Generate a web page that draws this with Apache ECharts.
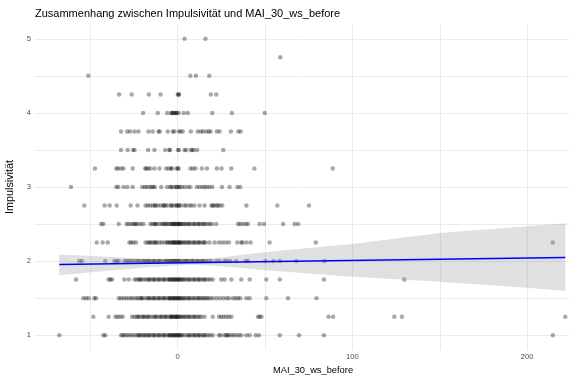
<!DOCTYPE html>
<html>
<head>
<meta charset="utf-8">
<script src="https://cdn.jsdelivr.net/npm/echarts@6/dist/echarts.min.js"></script>
<style>
  html, body { margin: 0; padding: 0; background: #ffffff; }
  #chart { width: 569px; height: 375px; }
</style>
</head>
<body>
<div id="chart"></div>
<script>
// MAI_30_ws_before values observed at each Impulsivität level
const imp_5_00 = [4, 16];
const imp_4_75 = [58.8];
const imp_4_50 = [-51, 7.3, 10.5, 18.2];
const imp_4_25 = [-33.4, -26.2, -16.4, -9.7, 0.2, 0.6, 0.9, 19.1, 22.2];
const imp_4_00 = [-19.7, -11.3, -5.9, -3.6, -3.3, -2.7, -1.9, -1.3, -0.7, -0.4, 0.7, 3.6, 5.9, 19.9, 31.1, 49.9];
const imp_3_75 = [-32.3, -28.8, -27.1, -24.6, -22.3, -16.6, -14.2, -10.9, -10.1, -5.6, -2.7, -1.9, 0.7, 1.7, 3.0, 7.6,
  11.6, 13.4, 14.5, 16.4, 17.9, 18.9, 22.5, 24.1, 30.5, 34.8, 36.1];
const imp_3_50 = [-32.3, -28.5, -25.4, -24.6, -16.8, -13.2, -7.0, -4.6, -4.4, 0.4, 0.7, 4.0, 5.0, 7.6, 8.4, 9.3, 11.3, 26.2];
const imp_3_25 = [-47.2, -35, -34, -32.3, -30.9, -25.6, -18.5, -17.8, -16.8, -15.5, -13.2, -10.3, -6.5, -5.0, -3.6, -3.4,
  -0.7, 0.2, 0.7, 7.4, 8.8, 10.3, 13.9, 16.8, 22.5, 25.2, 30.8, 44.0, 88.8];
const imp_3_00 = [-60.9, -35, -33.8, -30.8, -28.7, -25.6, -20.2, -18.7, -17.6, -16, -14.9, -13.9, -13, -9.3, -5.9, -4,
  -3.6, -2.1, -0.7, -0.4, 0.7, 1.1, 2.5, 4, 5.9, 7.4, 11.1, 12.6, 14.2, 15.5, 16.8, 18.3, 19.9, 25.4, 29.8, 34.2, 35.9];
const imp_2_75 = [-53.3, -41.7, -38.8, -34.8, -26.8, -22.9, -18.3, -17, -15.6, -14.1, -13, -12.6, -11.3, -9.7, -8, -7.9,
  -6.9, -5.6, -3.6, -3.6, -2.3, -0.7, -0.4, 0.7, 0.7, 2, 4, 5, 6.9, 8, 9.7, 12.6, 15.5, 19.3, 20.2, 20.8, 22.2, 23, 24.1,
  25.6, 39.4, 57.1, 75.2];
const imp_2_50 = [-43.6, -42.4, -33.6, -29.1, -27.9, -26.5, -25.2, -24.5, -23.7, -22.5, -21, -19.5, -15.5, -14.2, -13.2,
  -12.5, -11.9, -10.3, -9.0, -8, -7.3, -6.5, -5.9, -4.6, -4, -3.0, -2.7, -2, -1.7, -1.1, -0.4, 0.2, 0.7, 1, 1.5, 2.2, 3.0,
  4, 4.6, 5.9, 6.5, 7.3, 8.8, 9.5, 10.3, 11.6, 12.3, 13, 14.5, 15, 16, 17.4, 18.5, 19.9, 22.2, 34.6, 35.9, 37.4, 39, 40.3,
  47, 49.5, 60.4, 67, 69];
const imp_2_25 = [-46.2, -42.8, -39.9, -27.5, -26.5, -25.2, -23.7, -18.3, -17, -16, -15.5, -14.2, -13.2, -12.5, -11.9,
  -10.3, -9, -7.4, -6.1, -5.5, -4.6, -4, -3.0, -2.7, -2, -1.7, -1.1, -0.4, 0.2, 0.7, 1, 1.5, 2.2, 3, 4, 4.6, 5.9, 6.5, 7.3,
  8.8, 9.5, 10.3, 11.6, 12.3, 13, 14.5, 15.2, 16, 18.3, 21.2, 23.7, 25.6, 27.5, 29.4, 34.2, 36.5, 37.1, 39.4, 41.8, 52.7,
  79.1, 214.6];
const imp_2_00 = [-56.2, -54.6, -41.3, -36.1, -34.8, -33.6, -30.4, -29.1, -27.9, -26.5, -25.2, -23.7, -22.5, -21.4,
  -19.9, -19, -18.3, -17, -16.5, -15.6, -14.1, -13.5, -12.8, -11.3, -10.5, -9.9, -8.4, -7.1, -6.5, -5.6, -4.8, -4.2, -3.6,
  -2.7, -2.3, -1.8, -1.1, -0.7, 0.2, 0.7, 1.2, 2.1, 3.4, 4.2, 5, 5.8, 6.5, 7.9, 8.5, 9.2, 10.7, 11.5, 12.2, 13.6, 14.3,
  15.1, 16.4, 17.9, 19.3, 22.2, 24.1, 26.9, 28.3, 30.2, 33.6, 39, 40.3, 50.3, 54.8, 58.5, 68, 84];
const imp_1_75 = [-58, -39.4, -38.4, -37.4, -30.4, -27.9, -24.6, -23.3, -22.2, -21.5, -20.8, -19.5, -18.3, -17, -16.3,
  -15.6, -14.1, -13.5, -12.8, -11.3, -10.6, -9.9, -8.4, -7.7, -7.1, -5.6, -4.9, -4.2, -4, -2.7, -2.7, -1.9, -1.1, -1.1,
  0.2, 0.2, 0.9, 1.5, 2.2, 3, 3.8, 4.6, 5.9, 6.6, 7.3, 8.8, 9.5, 10.3, 11.6, 12.3, 13, 14.5, 15.2, 16, 17.4, 18.7, 20.2,
  25, 26.9, 30.8, 36.5, 41.3, 50.8, 58.5, 83.7, 129.7];
const imp_1_50 = [-53.9, -52.3, -50.8, -47.6, -46.6, -33.6, -32.3, -30.8, -29.4, -27.9, -26.5, -25.2, -23.7, -22.5,
  -21.2, -20.6, -19.9, -18.3, -17, -16.3, -15.6, -14.1, -13.5, -12.8, -11.3, -10.6, -9.9, -8.4, -7.7, -7.1, -5.6, -4.9,
  -4.2, -4, -2.7, -2.7, -1.9, -1.1, -1.1, 0.2, 0.2, 0.9, 1.5, 2.2, 3, 3.8, 4.6, 5.9, 6.6, 7.3, 8.8, 9.5, 10.7, 12, 12.2,
  13.6, 14.5, 15.5, 16.5, 17.4, 18.7, 20.2, 22.2, 24.1, 26, 27.9, 29.4, 31.7, 33.2, 34.6, 35.9, 39.4, 41.3, 50.8, 63.2,
  79.5];
const imp_1_25 = [-48.1, -39.4, -35.5, -34.2, -32.7, -31.3, -26, -24.6, -23.3, -22.5, -21.8, -20.2, -19.5, -18.9, -17.6,
  -16.8, -16, -14.5, -13.2, -12.5, -11.9, -10.3, -9.5, -8.8, -7.4, -6.8, -6.1, -4.6, -4, -3.5, -3, -2.7, -1.7, -1.1, -0.8,
  -0.4, 0.2, 0.7, 1.5, 2.2, 3, 4, 4.6, 5.9, 6.6, 7.3, 8.8, 9.5, 10.3, 11.6, 12.5, 13.6, 15.5, 20.2, 23.7, 25, 26.4, 27.9,
  29.4, 30.8, 46, 47, 48, 86.4, 89, 124, 128.4, 221.8];
const imp_1_00 = [-67.6, -42.4, -41.3, -32.3, -31.3, -30.4, -29.1, -27.9, -26.5, -25.2, -23.7, -22.5, -21.8, -21.2,
  -19.9, -19, -18.3, -17, -16.4, -15.6, -14.1, -13.5, -12.8, -11.3, -10.6, -9.9, -8.4, -7.7, -7.1, -5.6, -4.9, -4.2, -4,
  -2.7, -2.7, -1.9, -1.1, -1.1, 0.2, 0.2, 0.9, 1.5, 2.2, 3, 4.4, 5.9, 6.6, 7.3, 8.8, 9.5, 10.3, 11.6, 12.3, 13, 14.5,
  15.2, 16, 17.4, 18.7, 20.2, 23.7, 24.8, 26.9, 27.9, 28.6, 29.4, 30.8, 32.1, 33.6, 35.1, 36.5, 39.4, 41.3, 44.7, 46.6,
  58.5, 69.5, 83.7, 214.7];

const impLevels = [5, 4.75, 4.5, 4.25, 4, 3.75, 3.5, 3.25, 3, 2.75, 2.5, 2.25, 2, 1.75, 1.5, 1.25, 1];
const maiRows = [imp_5_00, imp_4_75, imp_4_50, imp_4_25, imp_4_00, imp_3_75, imp_3_50, imp_3_25, imp_3_00,
  imp_2_75, imp_2_50, imp_2_25, imp_2_00, imp_1_75, imp_1_50, imp_1_25, imp_1_00];

// linear fit and its 95% confidence band
const fitX = [-67.6, 221.8];
const fitY = [1.955, 2.05];
const bandX = [-67.6, -40, -20, 0, 10, 25, 49, 100, 150, 200, 221.8];
const bandLow = [1.81, 1.87, 1.91, 1.94, 1.95, 1.93, 1.88, 1.79, 1.72, 1.64, 1.595];
const bandHigh = [2.09, 2.06, 2.03, 2.02, 2.02, 2.05, 2.12, 2.23, 2.38, 2.47, 2.51];

// axis ticks and grid lines
const xLabelTicks = [0, 100, 200];
const xGridLines = [-50, 0, 50, 100, 150, 200];
const yLabelTicks = [1, 2, 3, 4, 5];
const yGridLines = [1, 1.5, 2, 2.5, 3, 3.5, 4, 4.5, 5];

const points = [];
impLevels.forEach((lvl, i) => maiRows[i].forEach(x => points.push([x, lvl])));

const fitData = fitX.map((x, i) => [x, fitY[i]]);
const bandData = bandX.map((x, i) => [x, bandLow[i], bandHigh[i]]);

const FONT = 'Liberation Sans, Arial, sans-serif';
const chart = echarts.init(document.getElementById('chart'), null, { renderer: 'canvas' });

chart.setOption({
  backgroundColor: '#ffffff',
  animation: false,
  title: {
    text: 'Zusammenhang zwischen Impulsivität und MAI_30_ws_before',
    left: 35,
    top: 8,
    padding: 0,
    textStyle: { fontFamily: FONT, fontSize: 11, fontWeight: 'normal', color: '#000000' }
  },
  grid: { left: 35, right: -22, top: 24, bottom: 25, containLabel: false, outerBoundsMode: 'none' },
  xAxis: {
    type: 'value',
    min: -81.5,
    max: 236.5,
    name: 'MAI_30_ws_before',
    nameLocation: 'middle',
    nameGap: 12,
    nameTextStyle: { fontFamily: FONT, fontSize: 9.3, color: '#000000' },
    axisLine: { show: false },
    axisTick: { show: false, customValues: xGridLines },
    axisLabel: {
      customValues: xLabelTicks,
      margin: 3,
      fontFamily: FONT, fontSize: 7.6, color: '#4d4d4d'
    },
    splitLine: { show: true, lineStyle: { color: '#ebebeb', width: 1 } }
  },
  yAxis: {
    type: 'value',
    min: 0.8,
    max: 5.2,
    name: 'Impulsivität',
    nameLocation: 'middle',
    nameGap: 16,
    nameRotate: 90,
    nameTextStyle: { fontFamily: FONT, fontSize: 10.8, color: '#000000' },
    axisLine: { show: false },
    axisTick: { show: false, customValues: yGridLines },
    axisLabel: {
      customValues: yLabelTicks,
      margin: 4,
      fontFamily: FONT, fontSize: 7.6, color: '#4d4d4d'
    },
    splitLine: { show: true, lineStyle: { color: '#ebebeb', width: 1 } }
  },
  series: [
    {
      type: 'scatter',
      data: points,
      symbol: 'circle',
      symbolSize: 4.5,
      itemStyle: { color: 'rgba(0,0,0,0.42)' },
      silent: true,
      z: 2
    },
    {
      type: 'custom',
      data: bandData,
      encode: { x: 0, y: [1, 2] },
      silent: true,
      z: 3,
      renderItem: function (params, api) {
        if (params.dataIndex !== 0) return null;
        const upper = bandData.map(d => api.coord([d[0], d[2]]));
        const lower = bandData.map(d => api.coord([d[0], d[1]])).reverse();
        return {
          type: 'polygon',
          shape: { points: upper.concat(lower) },
          style: { fill: 'rgba(153,153,153,0.3)', stroke: null }
        };
      }
    },
    {
      type: 'line',
      data: fitData,
      symbol: 'none',
      lineStyle: { color: '#0000ff', width: 1.5 },
      silent: true,
      z: 4
    }
  ]
});
</script>
</body>
</html>
